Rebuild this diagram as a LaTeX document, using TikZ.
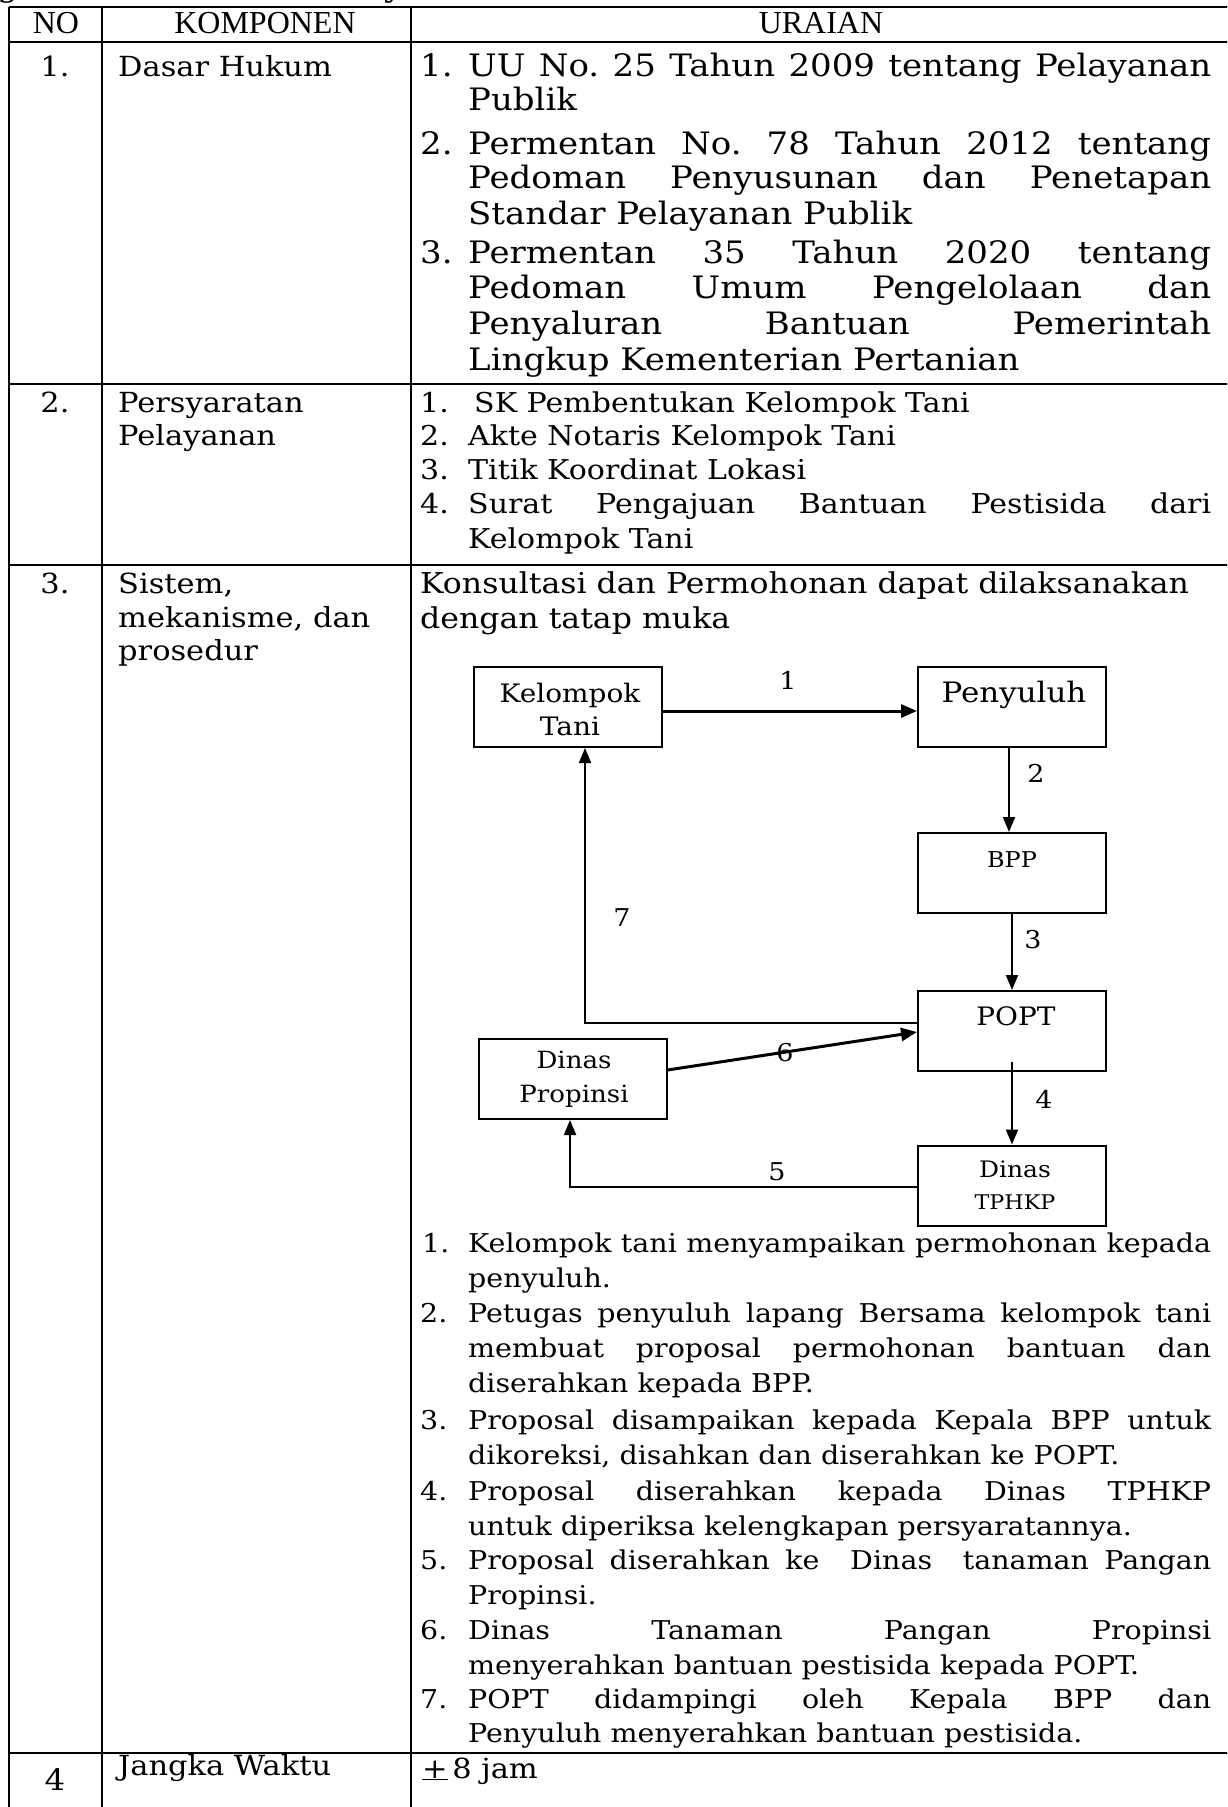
\documentclass[tikz,border=0pt]{standalone}
\usepackage{fontspec}
\setmainfont{DejaVu Serif}[FakeStretch=1.1]
\newfontfamily\hdrfont{Liberation Serif}
\usetikzlibrary{arrows.meta}
\frenchspacing
\newcommand\sizeA{\fontsize{30.9}{36}\selectfont}  % legal basis
\newcommand\sizeB{\fontsize{27.3}{34}\selectfont}  % requirements
\newcommand\sizeC{\fontsize{28.7}{36}\selectfont}  % procedure intro
\newcommand\sizeD{\fontsize{25.9}{34}\selectfont}  % procedure steps
\newcommand\sizeK{\fontsize{27.7}{34}\selectfont}  % component column
% a line of text stretched to the full column width
\newcommand\jline[1]{\makebox[743pt][s]{#1}}

\begin{document}
\begin{tikzpicture}[x=1pt,y=-1pt,
  hline/.style={line width=2.4pt},
  vline/.style={line width=1.8pt},
  txt/.style={anchor=base west, inner sep=0pt},
  num/.style={anchor=base, inner sep=0pt, font=\sizeK},
  hdr/.style={anchor=base, inner sep=0pt, font=\hdrfont\fontsize{32}{34}\selectfont},
  box/.style={draw, line width=2pt, minimum width=188pt, minimum height=80pt, inner sep=0pt},
  btxt/.style={anchor=base, inner sep=0pt, font=\fontsize{25.4}{28}\selectfont},
  lbl/.style={anchor=center, inner sep=0pt, font=\fontsize{24.5}{28}\selectfont},
  arr/.style={-{Triangle[length=15pt,width=12pt]}, line width=2pt},
  arrb/.style={-{Triangle[length=16pt,width=13pt]}, line width=3pt}]

\useasboundingbox (0,0) rectangle (1227,1807);
\clip (0,0) rectangle (1227,1807);

% descenders of the line above the table
\node[txt,font=\sizeA] (topg) at (-3,-4) {g};
\node[txt,font=\sizeA] (topy) at (384,-4) {y};

% table rules
\foreach \yy in {7,42,384,565,1753}
  \draw[hline] (9,\yy) -- (1240,\yy);
\foreach \xx in {9,102,411,1231}
  \draw[vline] (\xx,7) -- (\xx,1815);

% header
\node[hdr] (hno)   at (56,33)  {NO};
\node[hdr] (hkomp) at (265,33) {KOMPONEN};
\node[hdr] (hur)   at (821,33) {URAIAN};

% row numbers and components
\node[num] (no1) at (55,76)   {1.};
\node[num] (no2) at (55,412)  {2.};
\node[num] (no3) at (55,593)  {3.};
\node[num,font=\fontsize{29.5}{30}\selectfont] (no4) at (55,1790) {4};

\begin{scope}[every node/.append style={txt,font=\sizeK}]
\node (k1)  at (118,76)   {Dasar Hukum};
\node (k2a) at (118,412)  {Persyaratan};
\node (k2b) at (118,445)  {Pelayanan};
\node (k3a) at (118,593)  {Sistem,};
\node (k3b) at (118,627)  {mekanisme, dan};
\node (k3c) at (118,660)  {prosedur};
\node (k4)  at (118,1775) {Jangka Waktu};
\end{scope}

% row 1: legal basis
\begin{scope}[every node/.append style={txt,font=\sizeA}]
\node (d1n) at (420,76)  {1.};
\node (d1a) at (468,76)  {\jline{UU No. 25 Tahun 2009 tentang Pelayanan}};
\node (d1b) at (468,110) {Publik};
\node (d2n) at (420,154) {2.};
\node (d2a) at (468,154) {\jline{Permentan No. 78 Tahun 2012 tentang}};
\node (d2b) at (468,188) {\jline{Pedoman Penyusunan dan Penetapan}};
\node (d2c) at (468,224) {Standar Pelayanan Publik};
\node (d3n) at (420,263) {3.};
\node (d3a) at (468,263) {\jline{Permentan 35 Tahun 2020 tentang}};
\node (d3b) at (468,298) {\jline{Pedoman Umum Pengelolaan dan}};
\node (d3c) at (468,334) {\jline{Penyaluran Bantuan Pemerintah}};
\node (d3d) at (468,370) {Lingkup Kementerian Pertanian};
\end{scope}

% row 2: requirements
\begin{scope}[every node/.append style={txt,font=\sizeB}]
\node (p1n) at (420,412) {1.};
\node (p1a) at (474,412) {SK Pembentukan Kelompok Tani};
\node (p2n) at (420,445) {2.};
\node (p2a) at (468,445) {Akte Notaris Kelompok Tani};
\node (p3n) at (420,479) {3.};
\node (p3a) at (468,479) {Titik Koordinat Lokasi};
\node (p4n) at (420,513) {4.};
\node (p4a) at (468,513) {\jline{Surat Pengajuan Bantuan Pestisida dari}};
\node (p4b) at (468,548) {Kelompok Tani};
\end{scope}

% row 3: intro
\node[txt,font=\sizeC] (s0a) at (420,593) {Konsultasi dan Permohonan dapat dilaksanakan};
\node[txt,font=\sizeC] (s0b) at (420,628) {dengan tatap muka};

% flow diagram boxes
\node[box] (kt)   at (568,707)    {};
\node[box] (pen)  at (1012,707)   {};
\node[box] (bpp)  at (1012,873)   {};
\node[box] (popt) at (1012,1031)  {};
\node[box] (dp)   at (572.5,1079) {};
\node[box] (tph)  at (1012,1185.5){};

\node[btxt] (ktA)  at (570,702)   {Kelompok};
\node[btxt] (ktB)  at (570,735)   {Tani};
\node[btxt,font=\fontsize{28.1}{30}\selectfont] (penA) at (1014,702) {Penyuluh};
\node[btxt,font=\fontsize{21.8}{28}\selectfont] (bppA) at (1012,867) {BPP};
\node[btxt] (poptA) at (1016,1025) {POPT};
\node[btxt,font=\fontsize{23.7}{28}\selectfont] (dpA) at (574,1068) {Dinas};
\node[btxt,font=\fontsize{23.7}{28}\selectfont] (dpB) at (574,1102) {Propinsi};
\node[btxt,font=\fontsize{22.7}{28}\selectfont] (tphA) at (1015,1177) {Dinas};
\node[btxt,font=\fontsize{20.2}{28}\selectfont] (tphB) at (1015,1209) {TPHKP};

% flow connectors
\draw[arrb] ([yshift=-4pt]kt.east) -- ([yshift=-4pt]pen.west);
\draw[arr] ([xshift=-3pt]pen.south) -- ([xshift=-3pt]bpp.north);
\draw[arr] (bpp) -- (popt);
\draw[arr] ([yshift=10pt]popt.south) -- (tph.north);
\draw[arr] ([yshift=-1.5pt]tph.west) -| ([xshift=-2.5pt]dp.south);
\draw[arrb] ([yshift=9pt]dp.east) -- ([yshift=-1pt]popt.west);
\draw[arr] ([yshift=8pt]popt.west) -| ([xshift=17pt]kt.south);

\node[lbl] (l1) at (788,680)  {1};
\node[lbl] (l2) at (1036,773) {2};
\node[lbl] (l3) at (1033,940) {3};
\node[lbl] (l4) at (1044,1099){4};
\node[lbl] (l5) at (777,1172) {5};
\node[lbl] (l6) at (785,1053) {6};
\node[lbl] (l7) at (622,918)  {7};

% row 3: procedure steps
\begin{scope}[every node/.append style={txt,font=\sizeD}]
\node (q1n) at (422,1252) {1.};
\node (q1a) at (468,1252) {\jline{Kelompok tani menyampaikan permohonan kepada}};
\node (q1b) at (468,1287) {penyuluh.};
\node (q2n) at (420,1322) {2.};
\node (q2a) at (468,1322) {\jline{Petugas penyuluh lapang Bersama kelompok tani}};
\node (q2b) at (468,1357) {\jline{membuat proposal permohonan bantuan dan}};
\node (q2c) at (468,1392) {diserahkan kepada BPP.};
\node (q3n) at (420,1429) {3.};
\node (q3a) at (468,1429) {\jline{Proposal disampaikan kepada Kepala BPP untuk}};
\node (q3b) at (468,1464) {dikoreksi, disahkan dan diserahkan ke POPT.};
\node (q4n) at (420,1500) {4.};
\node (q4a) at (468,1500) {\jline{Proposal diserahkan kepada Dinas TPHKP}};
\node (q4b) at (468,1535) {untuk diperiksa kelengkapan persyaratannya.};
\node (q5n) at (420,1569) {5.};
\node (q5a) at (468,1569) {\jline{Proposal diserahkan ke\ \ Dinas\ \ tanaman Pangan}};
\node (q5b) at (468,1604) {Propinsi.};
\node (q6n) at (420,1639) {6.};
\node (q6a) at (468,1639) {\jline{Dinas Tanaman Pangan Propinsi}};
\node (q6b) at (468,1674) {menyerahkan bantuan pestisida kepada POPT.};
\node (q7n) at (420,1708) {7.};
\node (q7a) at (468,1708) {\jline{POPT didampingi oleh Kepala BPP dan}};
\node (q7b) at (468,1742) {Penyuluh menyerahkan bantuan pestisida.};
\end{scope}

% row 4: duration
\node[txt,font=\sizeK] (w1) at (422,1778) {\underline{+}\,8 jam};

\end{tikzpicture}
\end{document}
